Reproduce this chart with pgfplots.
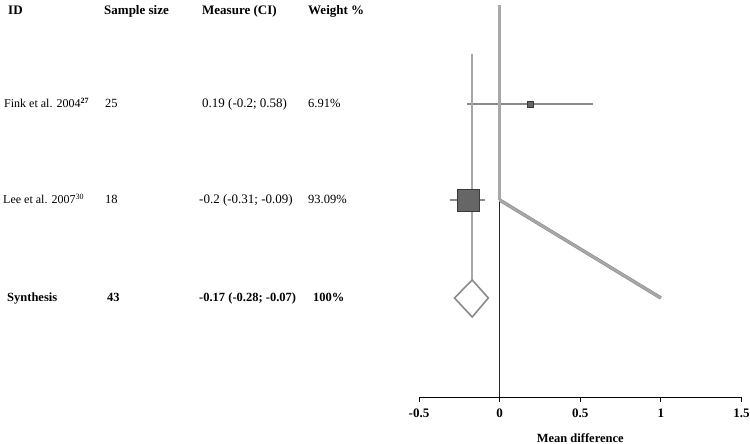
\documentclass[border=0pt]{standalone}
\usepackage{pgfplots}
\pgfplotsset{compat=1.18}
\usepackage{fontspec}
\setmainfont{Liberation Serif}
\definecolor{lg}{HTML}{A8A8A8}
\definecolor{mg}{HTML}{8A8A8A}
\definecolor{sq}{HTML}{666666}
\definecolor{sqd}{HTML}{3A3A3A}
\begin{document}
\begin{tikzpicture}[x=1pt,y=1pt]
\path[use as bounding box] (0,0) rectangle (750,444);
\begin{axis}[
  at={(419pt,47pt)}, anchor=south west,
  scale only axis, width=322.5pt, height=397pt,
  xmin=-0.5, xmax=1.5, ymin=0, ymax=397,
  axis x line=bottom, axis y line=none,
  axis line style={-, black, line width=0.8pt},
  xtick={-0.5,0,0.5,1,1.5},
  xticklabels={-0.5,0,0.5,1,1.5},
  tick align=outside, xtick pos=bottom,
  major tick length=5pt,
  tick style={black, line width=0.8pt},
  ticklabel style={font=\fontsize{13}{14}\selectfont\bfseries, yshift=-3pt},
  xlabel={Mean difference},
  xlabel style={font=\fontsize{12.5}{14}\selectfont\bfseries, yshift=-9pt},
  clip=false,
]
% squares
\addplot[only marks, mark=square*, mark size=3pt, mark options={fill=sq, draw=sqd, line width=0.6pt}] coordinates {(0.19,293)};
% CI lines
\addplot[mg, line width=1.2pt] coordinates {(-0.2,293) (0.58,293)};
\addplot[only marks, mark=square*, mark size=11pt, mark options={fill=sq, draw=sqd, line width=0.8pt}] coordinates {(-0.196,197)};
\addplot[mg, line width=1.2pt] coordinates {(-0.31,197) (-0.09,197)};
% pooled vertical
\addplot[lg, line width=1.6pt] coordinates {(-0.17,343) (-0.17,117)};
% null line
\addplot[black!85, line width=1.2pt] coordinates {(0,197) (0,0)};
\addplot[lg, line width=2.8pt] coordinates {(0,392) (0,197)};
\addplot[mg, line width=3.4pt] coordinates {(0,197) (1,99)};
\addplot[lg, line width=2.2pt] coordinates {(0,197) (1,99)};
% diamond
\addplot[fill=white, draw=mg, line width=1.6pt] coordinates {(-0.28,99) (-0.17,117) (-0.07,99) (-0.17,80)} -- cycle;
\end{axis}
\begin{scope}
% header
\node[font=\fontsize{13}{14}\selectfont\bfseries, anchor=base west, inner sep=0] at (8,429) {ID};
\node[font=\fontsize{13}{14}\selectfont\bfseries, anchor=base west, inner sep=0] at (104,429) {Sample size};
\node[font=\fontsize{13}{14}\selectfont\bfseries, anchor=base west, inner sep=0] at (202,429) {Measure (CI)};
\node[font=\fontsize{13}{14}\selectfont\bfseries, anchor=base west, inner sep=0] at (308,429) {Weight \%};
% Fink
\node[font=\fontsize{12}{14}\selectfont, anchor=base west, inner sep=0] at (4,336) {Fink et al. 2004\textsuperscript{\textbf{27}}};
\node[font=\fontsize{12.5}{14}\selectfont, anchor=base west, inner sep=0] at (105,336) {25};
\node[font=\fontsize{13}{14}\selectfont, anchor=base west, inner sep=0] at (202,336) {0.19 (-0.2; 0.58)};
\node[font=\fontsize{12.5}{14}\selectfont, anchor=base west, inner sep=0] at (308,336) {6.91\%};
% Lee
\node[font=\fontsize{12}{14}\selectfont, anchor=base west, inner sep=0] at (3,240) {Lee et al. 2007\textsuperscript{30}};
\node[font=\fontsize{12.5}{14}\selectfont, anchor=base west, inner sep=0] at (105,240) {18};
\node[font=\fontsize{13}{14}\selectfont, anchor=base west, inner sep=0] at (199,240) {-0.2 (-0.31; -0.09)};
\node[font=\fontsize{12.5}{14}\selectfont, anchor=base west, inner sep=0] at (308,240) {93.09\%};
% Synthesis
\node[font=\fontsize{12.5}{14}\selectfont\bfseries, anchor=base west, inner sep=0] at (7,142) {Synthesis};
\node[font=\fontsize{12.5}{14}\selectfont\bfseries, anchor=base west, inner sep=0] at (107,142) {43};
\node[font=\fontsize{12.5}{14}\selectfont\bfseries, anchor=base west, inner sep=0] at (199,142) {-0.17 (-0.28; -0.07)};
\node[font=\fontsize{12.5}{14}\selectfont\bfseries, anchor=base west, inner sep=0] at (313,142) {100\%};
\end{scope}
\end{tikzpicture}
\end{document}
